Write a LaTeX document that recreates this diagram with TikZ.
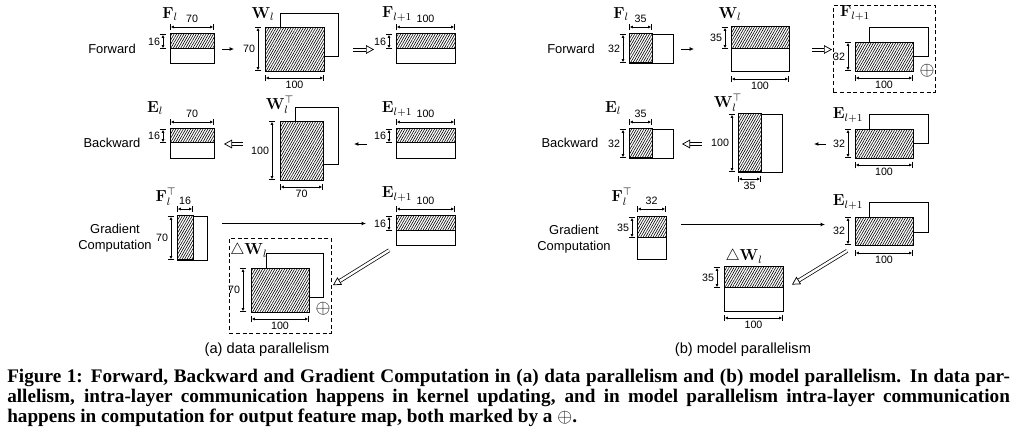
\documentclass[tikz,border=0pt]{standalone}
\usepackage[no-math]{fontspec}
\setmainfont{Liberation Sans}
\newfontfamily\capfont{Liberation Serif}
\usetikzlibrary{arrows.meta, positioning, patterns.meta}

\begin{document}
\begin{tikzpicture}[x=0.75pt, y=-0.75pt,
  mat/.style={draw, line width=0.75pt, fill=white, inner sep=0pt, anchor=north west},
  hatch/.style={draw, line width=0.75pt, preaction={fill=white},
                pattern={Lines[angle=60, distance=1.6pt, line width=0.45pt]}},
  dbox/.style={draw, dash pattern=on 3pt off 2pt, line width=0.6pt, inner sep=0pt, anchor=north west},
  dim/.style={|<->|, >={Latex[length=2.4pt, width=2.2pt]}, line width=0.55pt},
  num/.style={font=\fontsize{8}{8}\selectfont, inner sep=1.2pt},
  lbl/.style={font=\fontsize{12}{14}\selectfont, inner sep=0pt},
  oplus/.style={font=\fontsize{14}{14}\selectfont, inner sep=0pt},
  row/.style={font=\fontsize{9.7}{12}\selectfont, align=center, inner sep=0pt},
  sub/.style={font=\fontsize{11}{13}\selectfont, inner sep=0pt},
  captext/.style={font=\capfont\bfseries\fontsize{14.4}{15}\selectfont, inner sep=0pt,
                  text height=8.5pt, text depth=2pt, anchor=base west},
  arr/.style={-{Latex[length=3.2pt, width=2.8pt]}, line width=0.6pt},
  dbl/.style={double, double distance=1.8pt, line width=0.55pt,
              -{Triangle[open, length=6pt, width=6.5pt]}},
  rail/.style={line width=0.55pt},
  head/.style={draw=white, line width=0.5pt,
               -{Triangle[open, length=6pt, width=6.5pt, color=black, line width=0.55pt]}}
]
\useasboundingbox (0,0) rectangle (1024,438);

% (a) data parallelism
\node[row] (fwa) at (112,49) {Forward};
\node[row] (bwa) at (112,143) {Backward};
\node[row] (gca) at (115,238) {Gradient\\Computation};

% forward
\node[mat, minimum width=33pt, minimum height=21.75pt] (fa) at (170,34) {};
\path[hatch] (fa.north west) rectangle ++(44,15);
\node[lbl] (fa-l) at (170,14) {$\mathbf{F}_l$};
\draw[dim] (170,27) -- node[num, above=1.5pt] (fa-w) {70} (214,27);
\draw[dim] (163,34) -- node[num, left=0.8pt] (fa-h) {16} (163,49);

\node[mat, minimum width=43.5pt, minimum height=32.25pt] (wa-b) at (280,13) {};
\node[mat, hatch, minimum width=44.25pt, minimum height=33pt] (wa) at (265,27) {};
\node[lbl] (wa-l) at (263,14) {$\mathbf{W}_l$};
\draw[dim] (258,27) -- node[num, left=0.8pt] (wa-h) {70} (258,71);
\draw[dim] (265,78) -- node[num, below=1pt] (wa-w) {100} (324,78);

\node[mat, minimum width=44.25pt, minimum height=21.75pt] (fa1) at (396,34) {};
\path[hatch] (fa1.north west) rectangle ++(59,15);
\node[lbl] (fa1-l) at (397,14) {$\mathbf{F}_{l+1}$};
\draw[dim] (396,27) -- node[num, above=1.5pt] (fa1-w) {100} (455,27);
\draw[dim] (389,34) -- node[num, left=0.8pt] (fa1-h) {16} (389,49);

\draw[arr, shorten <=5.25pt, shorten >=23.25pt] (fa.east) -- (fa.east -| wa.west);
\draw[rail] ([xshift=21pt, yshift=1.15pt]wa.east) -- ([xshift=-22.5pt, yshift=1.15pt]wa.east -| fa1.west);
\draw[rail] ([xshift=21pt, yshift=-1.15pt]wa.east) -- ([xshift=-22.5pt, yshift=-1.15pt]wa.east -| fa1.west);
\draw[head] ([xshift=21pt]wa.east) -- ([xshift=-16.5pt]wa.east -| fa1.west);

% backward
\node[mat, minimum width=33pt, minimum height=21.75pt] (ea) at (170,129) {};
\path[hatch] (ea.north west) rectangle ++(44,14);
\node[lbl] (ea-l) at (155,108) {$\mathbf{E}_l$};
\draw[dim] (170,122) -- node[num, above=1.5pt] (ea-w) {70} (214,122);
\draw[dim] (163,129) -- node[num, left=0.8pt] (ea-h) {16} (163,143);

\node[mat, minimum width=32.25pt, minimum height=42.75pt] (wta-b) at (295,107) {};
\node[mat, hatch, minimum width=32.25pt, minimum height=44.25pt] (wta) at (280,121) {};
\node[lbl] (wta-l) at (280,105) {$\mathbf{W}_l^\top$};
\draw[dim] (272,121) -- node[num, left=0.8pt] (wta-h) {100} (272,180);
\draw[dim] (280,187) -- node[num, below=1pt] (wta-w) {70} (323,187);

\node[mat, minimum width=44.25pt, minimum height=21.75pt] (ea1) at (396,129) {};
\path[hatch] (ea1.north west) rectangle ++(59,14);
\node[lbl] (ea1-l) at (397,109) {$\mathbf{E}_{l+1}$};
\draw[dim] (396,122) -- node[num, above=1.5pt] (ea1-w) {100} (455,122);
\draw[dim] (389,129) -- node[num, left=0.8pt] (ea1-h) {16} (389,143);

\draw[dbl, shorten <=27.75pt, shorten >=6.75pt] (ea.east -| wta.west) -- (ea.east);
\draw[arr, shorten <=21.75pt, shorten >=22.5pt] (ea1.west) -- (ea1.west -| wta.east);

% gradient computation
\node[mat, minimum width=22.5pt, minimum height=33pt] (fta) at (177,216) {};
\path[hatch] (fta.north west) rectangle ++(16,44);
\node[lbl] (fta-l) at (166,197) {$\mathbf{F}_l^\top$};
\draw[dim] (177,209) -- node[num, above=1.5pt] (fta-w) {16} (193,209);
\draw[dim] (171,216) -- node[num, left=0.8pt] (fta-h) {70} (171,260);

\node[mat, minimum width=44.25pt, minimum height=21.75pt] (ga) at (396,216) {};
\path[hatch] (ga.north west) rectangle ++(59,15);
\node[lbl] (ga-l) at (397,194) {$\mathbf{E}_{l+1}$};
\draw[dim] (396,209) -- node[num, above=1.5pt] (ga-w) {100} (455,209);
\draw[dim] (389,216) -- node[num, left=0.8pt] (ga-h) {16} (389,231);

\coordinate (gca-s) at ([yshift=11.25pt]fta.east);
\draw[arr, shorten <=10.5pt, shorten >=22.5pt] (gca-s) -- (gca-s -| ga.west);

\node[dbox, minimum width=76.5pt, minimum height=71.25pt] (dwa) at (229,238) {};
\node[mat, minimum width=42.75pt, minimum height=33pt] (dwa-b) at (266,253) {};
\node[mat, hatch, minimum width=43.5pt, minimum height=33pt] (dwa-f) at (251,268) {};
\node[lbl, anchor=west] (dwa-l) at (230,251) {$\triangle\mathbf{W}_l$};
\draw[dim] (243,268) -- node[num, left=0.8pt] (dwa-h) {70} (243,312);
\draw[dim] (251,319) -- node[num, below=1pt] (dwa-w) {100} (309,319);
\node[oplus] (dwa-p) at (323,309) {$\oplus$};
\draw[dbl, shorten <=6pt, shorten >=1pt] (ga.south west) -- (dwa.east);

\node[sub] (capa) at (267,350) {(a) data parallelism};

% (b) model parallelism
\node[row] (fwb) at (571,49) {Forward};
\node[row] (bwb) at (570,143) {Backward};
\node[row] (gcb) at (574,239) {Gradient\\Computation};

% forward
\node[mat, minimum width=33pt, minimum height=21.75pt] (fb) at (629,34) {};
\path[hatch] (fb.north west) rectangle ++(23,29);
\node[lbl] (fb-l) at (621,14) {$\mathbf{F}_l$};
\draw[dim] (629,27) -- node[num, above=1.5pt] (fb-w) {35} (652,27);
\draw[dim] (623,34) -- node[num, left=0.8pt] (fb-h) {32} (623,63);

\node[mat, minimum width=43.5pt, minimum height=33pt] (wb) at (731,27) {};
\path[hatch] (wb.north west) rectangle ++(58,22);
\node[lbl] (wb-l) at (730,14) {$\mathbf{W}_l$};
\draw[dim] (725,27) -- node[num, left=0.8pt] (wb-h) {35} (725,49);
\draw[dim] (731,79) -- node[num, below=1pt] (wb-w) {100} (789,79);

\node[dbox, minimum width=76.5pt, minimum height=65.25pt] (dfb) at (833,5) {};
\node[mat, minimum width=44.25pt, minimum height=21.75pt] (fb1-b) at (869,27) {};
\node[mat, hatch, minimum width=43.5pt, minimum height=21.75pt] (fb1) at (855,42) {};
\node[lbl] (fb1-l) at (855,13) {$\mathbf{F}_{l+1}$};
\draw[dim] (848,42) -- node[num, left=0.8pt] (fb1-h) {32} (848,71);
\draw[dim] (855,78) -- node[num, below=1pt] (fb1-w) {100} (913,78);
\node[oplus] (fb1-p) at (927,71) {$\oplus$};

\draw[arr, shorten <=5.25pt, shorten >=27.75pt] (fb.east) -- (fb.east -| wb.west);
\draw[rail] ([xshift=16.5pt, yshift=1.15pt]wb.east) -- ([xshift=-6.75pt, yshift=1.15pt]wb.east -| dfb.west);
\draw[rail] ([xshift=16.5pt, yshift=-1.15pt]wb.east) -- ([xshift=-6.75pt, yshift=-1.15pt]wb.east -| dfb.west);
\draw[head] ([xshift=16.5pt]wb.east) -- ([xshift=-0.75pt]wb.east -| dfb.west);

% backward
\node[mat, minimum width=33pt, minimum height=21.75pt] (eb) at (629,129) {};
\path[hatch] (eb.north west) rectangle ++(23,29);
\node[lbl] (eb-l) at (613,108) {$\mathbf{E}_l$};
\draw[dim] (629,122) -- node[num, above=1.5pt] (eb-w) {35} (652,122);
\draw[dim] (623,129) -- node[num, left=0.8pt] (eb-h) {32} (623,158);

\node[mat, minimum width=33pt, minimum height=43.5pt] (wtb) at (738,114) {};
\path[hatch] (wtb.north west) rectangle ++(23,58);
\node[lbl] (wtb-l) at (728,103) {$\mathbf{W}_l^\top$};
\draw[dim] (732,114) -- node[num, left=0.8pt] (wtb-h) {100} (732,172);
\draw[dim] (738,179) -- node[num, below=1pt] (wtb-w) {35} (761,179);

\node[mat, minimum width=44.25pt, minimum height=21.75pt] (eb1-b) at (869,114) {};
\node[mat, hatch, minimum width=43.5pt, minimum height=21.75pt] (eb1) at (855,129) {};
\node[lbl] (eb1-l) at (848,115) {$\mathbf{E}_{l+1}$};
\draw[dim] (848,129) -- node[num, left=0.8pt] (eb1-h) {32} (848,158);
\draw[dim] (855,165) -- node[num, below=1pt] (eb1-w) {100} (913,165);

\draw[dbl, shorten <=27pt, shorten >=6pt] (eb.east -| wtb.west) -- (eb.east);
\draw[arr, shorten <=21.75pt, shorten >=23.25pt] (eb1.west) -- (eb1.west -| wtb.east);

% gradient computation
\node[mat, minimum width=21.75pt, minimum height=31.5pt] (ftb) at (637,217) {};
\path[hatch] (ftb.north west) rectangle ++(29,21);
\node[lbl] (ftb-l) at (622,197) {$\mathbf{F}_l^\top$};
\draw[dim] (637,209) -- node[num, above=1.5pt] (ftb-w) {32} (666,209);
\draw[dim] (632,217) -- node[num, left=0.8pt] (ftb-h) {35} (632,238);

\node[mat, minimum width=44.25pt, minimum height=22.5pt] (gb-b) at (869,202) {};
\node[mat, hatch, minimum width=43.5pt, minimum height=21pt] (gb) at (855,217) {};
\node[lbl] (gb-l) at (848,202) {$\mathbf{E}_{l+1}$};
\draw[dim] (848,217) -- node[num, left=0.8pt] (gb-h) {32} (848,245);
\draw[dim] (855,253) -- node[num, below=1pt] (gb-w) {100} (913,253);

\coordinate (gcb-s) at ([yshift=10.5pt]ftb.east);
\draw[arr, shorten <=10.5pt, shorten >=22.5pt] (gcb-s) -- (gcb-s -| gb.west);

\node[mat, minimum width=44.25pt, minimum height=33pt] (wdb) at (724,267) {};
\path[hatch] (wdb.north west) rectangle ++(59,21);
\node[lbl] (wdb-l) at (744,257) {$\triangle\mathbf{W}_l$};
\draw[dim] (717,267) -- node[num, left=0.8pt] (wdb-h) {35} (717,288);
\draw[dim] (724,318) -- node[num, below=1pt] (wdb-w) {100} (783,318);
\draw[dbl, shorten <=7pt, shorten >=7pt] (gb.south west) -- (wdb.east);

\node[sub] (capb) at (743,350) {(b) model parallelism};

% caption
\node[captext] (cap1) at (7,382) {\makebox[752pt][s]{Figure 1: Forward, Backward and Gradient Computation in (a) data parallelism and (b) model parallelism. In data par-}};
\node[captext] (cap2) at (7,402) {\makebox[752pt][s]{allelism, intra-layer communication happens in kernel updating, and in model parallelism intra-layer communication}};
\node[captext] (cap3) at (7,422) {happens in computation for output feature map, both marked by a $\oplus$.};
\end{tikzpicture}
\end{document}
